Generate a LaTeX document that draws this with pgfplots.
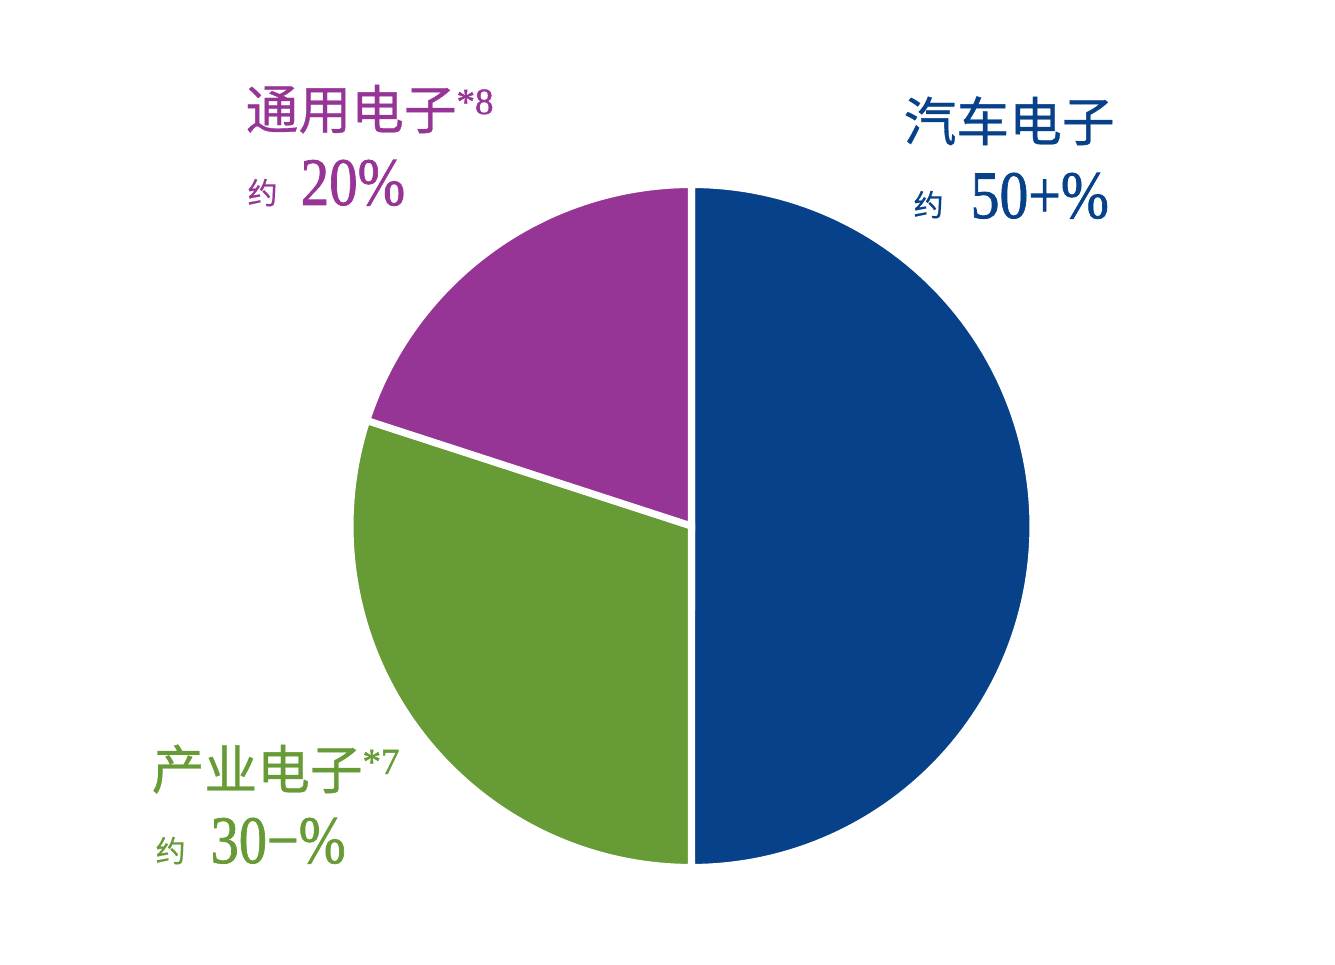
\documentclass[border=0pt]{standalone}
\usepackage{pgfplots}
\pgfplotsset{compat=1.18}
\usepgfplotslibrary{polar}
\usepackage{graphicx}
\usepackage{fontspec}
\newfontfamily\cjk[FakeBold=0.6]{Noto Sans CJK SC}
\newfontfamily\num[FakeBold=1.2]{Liberation Serif}
\definecolor{cblue}{HTML}{06418A}
\definecolor{cgreen}{HTML}{679B35}
\definecolor{cpurple}{HTML}{963596}
\begin{document}
\begin{tikzpicture}
\path (0,0) rectangle (13.35cm,9.65cm);
% shares: automotive 50%, industrial 30%, general 20%  (angles: 180, 108, 72 degrees)
\begin{polaraxis}[
  at={(6.915cm,4.39cm)}, anchor=center,
  scale only axis, width=6.83cm, height=6.83cm,
  ymin=0, ymax=1, hide axis, clip=false,
]
\addplot[fill=cblue, draw=white, line width=2pt, samples=120, domain=-90:90] {1} -- (axis cs:0,0) -- cycle;
\addplot[fill=cgreen, draw=white, line width=2pt, samples=80, domain=162:270] {1} -- (axis cs:0,0) -- cycle;
\addplot[fill=cpurple, draw=white, line width=2pt, samples=60, domain=90:162] {1} -- (axis cs:0,0) -- cycle;
\end{polaraxis}
% labels
\node[anchor=base west, inner sep=0, text=cblue] at (9.03cm,8.24cm) {\cjk\fontsize{15}{15}\selectfont 汽车电子};
\node[anchor=base west, inner sep=0, text=cblue] at (9.13cm,7.49cm) {\cjk\fontsize{8.5}{8.5}\selectfont 约};
\node[anchor=base west, inner sep=0, text=cblue] at (9.70cm,7.47cm) {\scalebox{0.85}[1]{\num\fontsize{19.3}{19.3}\selectfont 50+\%}};

\node[anchor=base west, inner sep=0, text=cpurple] at (2.45cm,8.36cm) {\cjk\fontsize{15}{15}\selectfont 通用电子\raisebox{1.5mm}{\num\fontsize{10.5}{10.5}\selectfont *8}};
\node[anchor=base west, inner sep=0, text=cpurple] at (2.47cm,7.61cm) {\cjk\fontsize{8.5}{8.5}\selectfont 约};
\node[anchor=base west, inner sep=0, text=cpurple] at (3.00cm,7.60cm) {\scalebox{0.84}[1]{\num\fontsize{19.3}{19.3}\selectfont 20\%}};

\node[anchor=base west, inner sep=0, text=cgreen] at (1.51cm,1.76cm) {\cjk\fontsize{15}{15}\selectfont 产业电子\raisebox{1.5mm}{\num\fontsize{10.5}{10.5}\selectfont *7}};
\node[anchor=base west, inner sep=0, text=cgreen] at (1.55cm,1.03cm) {\cjk\fontsize{8.5}{8.5}\selectfont 约};
\node[anchor=base west, inner sep=0, text=cgreen] at (2.10cm,1.02cm) {\scalebox{0.83}[1]{\num\fontsize{19.3}{19.3}\selectfont 30−\%}};
\end{tikzpicture}
\end{document}
